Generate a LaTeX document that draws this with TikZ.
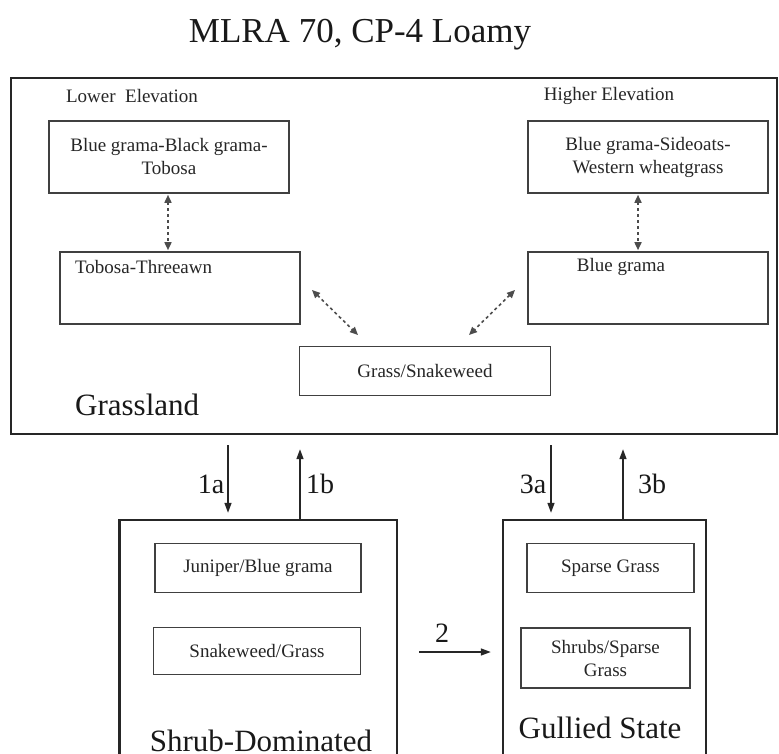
\documentclass[tikz,border=0pt]{standalone}
\usepackage{fontspec}
\setmainfont{Liberation Serif}
\usetikzlibrary{arrows.meta}
\begin{document}
\begin{tikzpicture}[x=1pt,y=-1pt,
  region/.style={inner sep=0pt, draw=none},
  outerline/.style={draw=black!85, line width=2.4pt},
  box/.style={draw=black!75, line width=1.6pt, inner sep=0pt, align=center, font=\fontsize{19}{23}\selectfont, text=black!85},
  small/.style={font=\fontsize{19}{23}\selectfont, inner sep=0pt, text=black!85},
  big/.style={font=\fontsize{31}{34}\selectfont, inner sep=0pt, text=black!90},
  lab/.style={font=\fontsize{28}{30}\selectfont, inner sep=0pt, text=black!90},
  dotarrow/.style={draw=black!70, line width=1.6pt, dash pattern=on 3pt off 3pt, {Triangle[length=8pt,width=7pt]}-{Triangle[length=8pt,width=7pt]}},
  arr/.style={draw=black!85, line width=1.5pt, -{Triangle[length=10pt,width=7pt]}}]
\fill[white] (0,0) rectangle (779,754);
\useasboundingbox (0,0) rectangle (779,754);

% title
\node[font=\fontsize{35}{38}\selectfont, inner sep=0pt, anchor=base, text=black!90] (title) at (360,43) {MLRA 70, CP-4 Loamy};

% grassland
\node[region, outerline, minimum width=766pt, minimum height=356pt] (grass) at (394,256) {};
\node[small] (lowel) at (132,96) {Lower\ \ Elevation};
\node[small] (hiel) at (609,96) {Higher Elevation};
\node[box, minimum width=240pt, minimum height=72pt] (bbt) at (169,157) {Blue grama-Black grama-\\Tobosa};
\node[box, minimum width=240pt, minimum height=72pt] (bsw) at (648,157) {Blue grama-Sideoats-\\Western wheatgrass};
\node[box, minimum width=240pt, minimum height=72pt] (tt) at (180,288) {};
\node[small, anchor=west] (ttl) at (75,267) {Tobosa-Threeawn};
\node[box, minimum width=240pt, minimum height=72pt] (bg) at (648,288) {};
\node[small] (bgl) at (621,267) {Blue grama};
\node[box, minimum width=251pt, minimum height=49pt] (gs) at (425,371) {Grass/Snakeweed};
\node[big, anchor=base west] (gl) at (75,415) {Grassland};

\coordinate (xl) at (168,0);
\coordinate (xr) at (638,0);
\draw[dotarrow, shorten <=1pt, shorten >=1pt] (bbt.south -| xl) -- (tt.north -| xl);
\draw[dotarrow, shorten <=1pt, shorten >=1pt] (bsw.south -| xr) -- (bg.north -| xr);
\coordinate (d1a) at (312,290);
\coordinate (d1b) at (358,335);
\coordinate (d2a) at (515,290);
\coordinate (d2b) at (469,335);
\draw[dotarrow] (d1a) -- (d1b);
\draw[dotarrow] (d2a) -- (d2b);

% shrub-dominated
\node[region, minimum width=277pt, minimum height=234pt] (shrub) at (258,637) {};
\draw[outerline] (shrub.south west) -- (shrub.north west) -- (shrub.north east) -- (shrub.south east);
\node[box, minimum width=206pt, minimum height=49pt] (jb) at (258,568) {Juniper/Blue grama};
\node[box, minimum width=207pt, minimum height=47pt] (sg) at (257,651) {Snakeweed/Grass};
\node[big, anchor=base] (sdl) at (261,751) {Shrub-Dominated};

% gullied
\node[region, minimum width=203pt, minimum height=234pt] (gul) at (604.5,637) {};
\draw[outerline] (gul.south west) -- (gul.north west) -- (gul.north east) -- (gul.south east);
\node[box, minimum width=167pt, minimum height=49pt] (spg) at (610.5,568) {Sparse Grass};
\node[box, minimum width=169pt, minimum height=60pt] (ssg) at (605.5,658) {Shrubs/Sparse\\Grass};
\node[big, anchor=base] (gsl) at (600,738) {Gullied State};

% transitions
\coordinate (x1a) at (228,0);
\coordinate (x1b) at (300,0);
\coordinate (x3a) at (551,0);
\coordinate (x3b) at (623,0);
\draw[arr, shorten <=10pt, shorten >=7pt] (grass.south -| x1a) -- (shrub.north -| x1a);
\draw[arr, shorten <=0pt, shorten >=14pt] (shrub.north -| x1b) -- (grass.south -| x1b);
\draw[arr, shorten <=10pt, shorten >=7pt] (grass.south -| x3a) -- (gul.north -| x3a);
\draw[arr, shorten <=0pt, shorten >=14pt] (gul.north -| x3b) -- (grass.south -| x3b);
\node[lab] (l1a) at (211,484) {1a};
\node[lab] (l1b) at (320,484) {1b};
\node[lab] (l3a) at (533,484) {3a};
\node[lab] (l3b) at (652,484) {3b};
\coordinate (a2s) at (419,652);
\draw[arr, shorten >=12pt] (a2s) -- (gul.west |- a2s);
\node[lab] (l2) at (442,633) {2};
\end{tikzpicture}
\end{document}
